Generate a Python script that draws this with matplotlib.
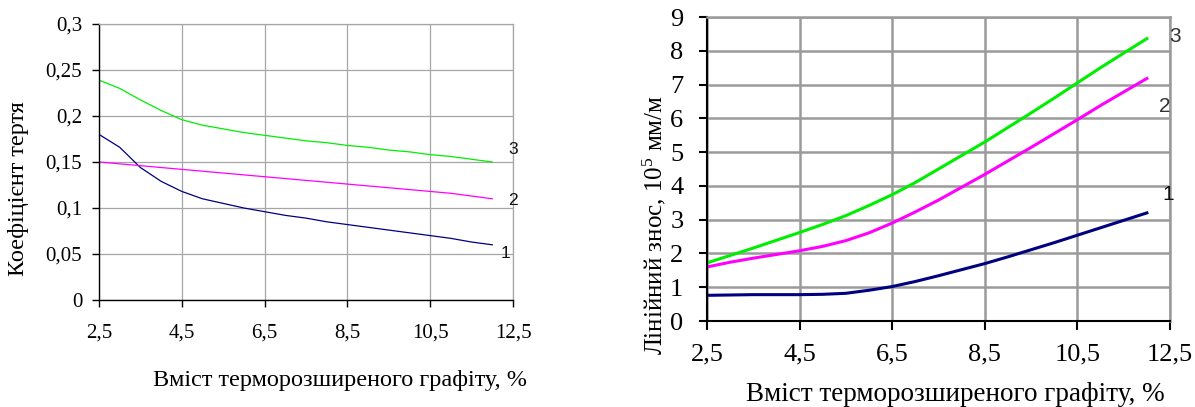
import matplotlib
matplotlib.use("Agg")
import matplotlib.pyplot as plt

plt.rcParams['font.family'] = ['Liberation Serif', 'DejaVu Serif']
plt.rcParams['mathtext.fontset'] = 'custom'
plt.rcParams['mathtext.rm'] = 'Liberation Serif'
plt.rcParams['mathtext.it'] = 'Liberation Serif'

# ---------------- data ----------------
x = [2.5, 3.0, 3.5, 4.0, 4.5, 5.0, 5.5, 6.0, 6.5, 7.0, 7.5, 8.0, 8.5, 9.0, 9.5,
     10.0, 10.5, 11.0, 11.5, 12.0]

# friction coefficient (left)
fr1 = [.180, .166, .144, .129, .118, .110, .105, .100, .096, .092, .089, .085, .082,
       .079, .076, .073, .070, .067, .063, .060]
fr2 = [.150, .148, .146, .144, .142, .140, .138, .136, .134, .132, .130, .128, .126,
       .124, .122, .120, .118, .116, .113, .110]
fr3 = [.239, .230, .2175, .206, .196, .190, .186, .182, .179, .176, .173, .171, .168,
       .166, .163, .161, .158, .156, .153, .150]

# linear wear (right)
w1 = [0.76, 0.77, 0.78, 0.78, 0.78, 0.79, 0.82, 0.91, 1.02, 1.17, 1.34, 1.52, 1.70,
      1.90, 2.11, 2.32, 2.54, 2.76, 2.98, 3.20]
w2 = [1.60, 1.74, 1.86, 1.97, 2.08, 2.21, 2.38, 2.61, 2.90, 3.23, 3.58, 3.96, 4.34,
      4.74, 5.14, 5.55, 5.96, 6.38, 6.78, 7.18]
w3 = [1.72, 1.94, 2.16, 2.39, 2.62, 2.86, 3.12, 3.42, 3.74, 4.10, 4.50, 4.90, 5.30,
      5.73, 6.16, 6.60, 7.05, 7.50, 7.93, 8.36]

xticks = [2.5, 4.5, 6.5, 8.5, 10.5, 12.5]
xticklabels = ['2,5', '4,5', '6,5', '8,5', '10,5', '12,5']
fr_ticks = [0, 0.05, 0.1, 0.15, 0.2, 0.25, 0.3]
fr_ticklabels = ['0', '0,05', '0,1', '0,15', '0,2', '0,25', '0,3']
w_ticks = list(range(0, 10))
w_ticklabels = [str(v) for v in w_ticks]

curve_names = ['1', '2', '3']
xlabel = 'Вміст терморозширеного графіту, %'
ylabel_left = 'Коефіцієнт тертя'
ylabel_right = r'Лінійний знос, 10$^{5}$ мм/м'

NAVY = '#000080'
MAG = '#ff00ff'
GREEN = '#00ee00'
GRID = '#a6a6a6'
GRID2 = '#9a9a9a'

W, H = 1195, 407
fig = plt.figure(figsize=(W / 100, H / 100), dpi=100)

def box(l, r, t, b):
    return [l / W, (H - b) / H, (r - l) / W, (b - t) / H]

# ---------------- left chart ----------------
ax1 = fig.add_axes(box(99, 513, 24, 300))
ax1.plot(x, fr1, color=NAVY, lw=0.9)
ax1.plot(x, fr2, color=MAG, lw=0.9)
ax1.plot(x, fr3, color=GREEN, lw=0.9)
ax1.set_xlim(2.5, 12.5)
ax1.set_ylim(0, 0.3)
ax1.set_xticks(xticks)
ax1.set_xticklabels(xticklabels)
ax1.set_yticks(fr_ticks)
ax1.set_yticklabels(fr_ticklabels)
ax1.grid(True, color=GRID, lw=0.9)
ax1.set_axisbelow(True)
for s in ['top', 'right']:
    ax1.spines[s].set_color(GRID)
    ax1.spines[s].set_linewidth(0.9)
for s in ['left', 'bottom']:
    ax1.spines[s].set_color('black')
    ax1.spines[s].set_linewidth(1.0)
ax1.tick_params(axis='x', direction='out', length=5, width=1, pad=12, labelsize=15)
ax1.tick_params(axis='y', direction='out', length=5, width=1, pad=7, labelsize=15)

for name, xpix, ypix in zip(curve_names, [505, 513, 513], [253, 201, 149]):
    fig.text(xpix / W, 1 - ypix / H, name, family='Liberation Sans', fontsize=12.5,
             ha='center', va='center', color='#111111')

fig.text(19 / W, 1 - 188.5 / H, ylabel_left, rotation=90, fontsize=17.5,
         ha='center', va='center')
fig.text(340 / W, 1 - 386 / H, xlabel, fontsize=17.5, ha='center', va='baseline')

# ---------------- right chart ----------------
ax2 = fig.add_axes(box(707, 1170, 17, 321))
ax2.plot(x, w1, color=NAVY, lw=2.2)
ax2.plot(x, w2, color=MAG, lw=2.2)
ax2.plot(x, w3, color=GREEN, lw=2.2)
ax2.set_xlim(2.5, 12.5)
ax2.set_ylim(0, 9)
ax2.set_xticks(xticks)
ax2.set_xticklabels(xticklabels)
ax2.set_yticks(w_ticks)
ax2.set_yticklabels(w_ticklabels)
ax2.grid(True, color=GRID2, lw=1.8)
ax2.set_axisbelow(True)
for s in ['top', 'right']:
    ax2.spines[s].set_color(GRID2)
    ax2.spines[s].set_linewidth(1.8)
for s in ['left', 'bottom']:
    ax2.spines[s].set_color('black')
    ax2.spines[s].set_linewidth(1.5)
ax2.tick_params(axis='x', direction='out', length=6.5, width=1.5, pad=10, labelsize=19)
ax2.tick_params(axis='y', direction='out', length=6, width=1.5, pad=11, labelsize=19)

for name, xpix, ypix, col in zip(curve_names, [1168, 1165, 1175], [195, 107, 37],
                                 ['#111111', '#333333', '#333333']):
    fig.text(xpix / W, 1 - ypix / H, name, family='Liberation Sans', fontsize=15,
             ha='center', va='center', color=col)

fig.text(654 / W, 1 - 225 / H, ylabel_right, rotation=90, fontsize=18,
         ha='center', va='center')
fig.text(955 / W, 1 - 401 / H, xlabel, fontsize=19.5, ha='center', va='baseline')

fig.savefig('out.png', dpi=100)
